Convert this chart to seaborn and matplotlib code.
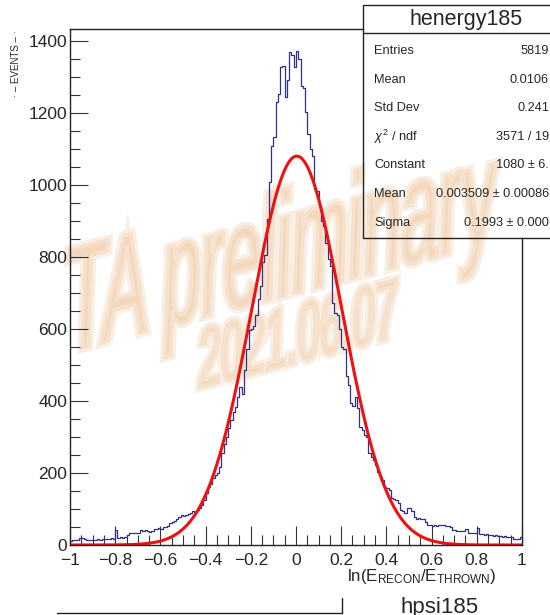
import numpy as np
import pandas as pd
import matplotlib
matplotlib.use("Agg")
import matplotlib.pyplot as plt
import seaborn as sns
from matplotlib.textpath import TextPath
from matplotlib.patches import PathPatch, Rectangle
from matplotlib.font_manager import FontProperties
from matplotlib.transforms import Affine2D
from matplotlib.lines import Line2D
from matplotlib.ticker import MultipleLocator

# histogram: 200 bins on [-1, 1], counts
x_lo, x_hi, n_bins = -1.0, 1.0, 200
counts = [
    12, 14, 13, 15, 20, 19, 16, 15, 14, 13,
    15, 14, 16, 15, 17, 16, 18, 17, 19, 18,
    42, 20, 21, 19, 22, 27, 32, 33, 34, 32,
    33, 41, 40, 42, 38, 37, 39, 45, 44, 46,
    45, 50, 49, 52, 62, 64, 66, 72, 78, 82,
    80, 84, 86, 90, 95, 92, 98, 104, 111, 125,
    145, 160, 170, 186, 195, 200, 217, 256, 280, 301,
    325, 348, 368, 384, 410, 440, 418, 487, 543, 598,
    600, 607, 640, 682, 720, 785, 805, 905, 1007, 1108,
    1133, 1230, 1253, 1328, 1330, 1244, 1290, 1369, 1360, 1328,
    1372, 1350, 1275, 1268, 1202, 1141, 1100, 1080, 988, 983,
    941, 900, 885, 840, 793, 776, 673, 645, 640, 600,
    551, 543, 468, 445, 395, 387, 411, 380, 328, 320,
    306, 300, 256, 245, 237, 223, 203, 190, 181, 162,
    158, 153, 131, 128, 126, 117, 97, 95, 89, 103,
    103, 95, 78, 73, 74, 72, 73, 64, 56, 55,
    54, 56, 53, 55, 56, 55, 53, 53, 50, 42,
    42, 40, 39, 38, 39, 45, 33, 34, 32, 33,
    47, 30, 31, 29, 30, 28, 29, 26, 27, 25,
    26, 23, 24, 22, 23, 21, 18, 17, 16, 22,
]

# gaussian fit parameters from the stats box
fit_const = 1080.0
fit_mean = 0.003509
fit_sigma = 0.1993

stat_names = ["Entries", "Mean", "Std Dev", r"$\chi^2$ / ndf", "Constant", "Mean", "Sigma"]
stat_values = ["5819", "0.0106", "0.241", "3571 / 19", "1080 \u00b1 6.",
               "0.003509 \u00b1 0.00086", "0.1993 \u00b1 0.000"]
hist_name = "henergy185"

W, H = 550, 615
def fx(px):
    return px / W
def fy(py):
    return 1 - py / H

sns.set_style("ticks")
plt.rcParams["font.family"] = ["Liberation Sans", "DejaVu Sans"]
plt.rcParams["mathtext.fontset"] = "custom"
plt.rcParams["mathtext.rm"] = "Liberation Sans"
plt.rcParams["mathtext.it"] = "Liberation Sans:italic"

fig = plt.figure(figsize=(W / 100, H / 100), dpi=100, facecolor="white")

# watermark behind everything (axes background is transparent)
fp = FontProperties(family="Liberation Sans")
def watermark(text, x0, y0, length, cap, slope_deg, lean_deg):
    path = TextPath((0, 0), text, size=1, prop=fp)
    ext = path.get_extents()
    tr = Affine2D().translate(-ext.x0, 0).scale(length / ext.width, cap / 0.72)
    tr = tr.skew_deg(lean_deg, slope_deg).translate(x0, H - y0)
    fig.add_artist(PathPatch(path, transform=tr, facecolor="#f9eee3", edgecolor="#f9eee3",
                             linewidth=7, zorder=-6))
    fig.add_artist(PathPatch(path, transform=tr, facecolor="#f4d8bd", edgecolor="#f6e1cc",
                             linewidth=2.5, zorder=-5))

watermark("TA preliminary", 66, 352, 428, 107, 14.5, 2)
watermark("2021.06.07", 200, 387, 194, 60, 14.5, 2)

ax = fig.add_axes([fx(70), fy(545), fx(522) - fx(70), fy(29) - fy(545)])
ax.patch.set_alpha(0)

edges = np.linspace(x_lo, x_hi, n_bins + 1)
df = pd.DataFrame({"x": 0.5 * (edges[:-1] + edges[1:]), "n": counts})
sns.histplot(data=df, x="x", weights="n", bins=n_bins, binrange=(x_lo, x_hi),
             element="step", fill=False, color="#2e3185", linewidth=0.9, ax=ax)

xs = np.linspace(x_lo, x_hi, 600)
ys = fit_const * np.exp(-0.5 * ((xs - fit_mean) / fit_sigma) ** 2)
sns.lineplot(x=xs, y=ys, color="#ee1111", linewidth=2.2, ax=ax)

ax.set_xlim(x_lo, x_hi)
ax.set_ylim(0, 1433)
ax.set_xlabel("")
ax.set_ylabel("")
ax.xaxis.set_minor_locator(MultipleLocator(0.05))
ax.yaxis.set_major_locator(MultipleLocator(200))
ax.yaxis.set_minor_locator(MultipleLocator(50))
xt = np.round(np.arange(-1, 1.01, 0.2), 2)
ax.set_xticks(xt)
ax.set_xticklabels([("\u2212" if v < 0 else "") + f"{abs(v):g}" for v in xt])
ax.tick_params(which="both", direction="in", color="#333333", width=0.8, labelsize=12.5)
ax.tick_params(axis="x", which="major", length=14, pad=6)
ax.tick_params(axis="x", which="minor", length=7)
ax.tick_params(axis="y", which="major", length=13, pad=2)
ax.tick_params(axis="y", which="minor", length=7)
for s in ax.spines.values():
    s.set_visible(True)
    s.set_linewidth(1.0)
    s.set_color("#222222")
# stats box sits on top of the frame corner
ax.spines["top"].set_bounds(x_lo, x_lo + (363 - 70) / 452 * 2)
ax.spines["right"].set_bounds(0, (545 - 238) / 0.36)

# x title, y title, pad name
fig.text(fx(497), fy(567), r"ln(E$_{\mathregular{RECON}}$/E$_{\mathregular{THROWN}}$)",
         ha="right", va="top", fontsize=12.2)
fig.text(fx(16), fy(30), "\u00b7 \u2013 EVENTS \u2013 \u00b7", rotation=90, ha="center", va="top",
         fontsize=7)
fig.text(fx(440), fy(597), "hpsi185", ha="center", va="top", fontsize=16)
fig.add_artist(Line2D([fx(57), fx(342)], [fy(613), fy(613)], color="#222222", lw=1))
fig.add_artist(Line2D([fx(342), fx(342)], [fy(598), fy(613)], color="#222222", lw=1))

# stats box
fig.add_artist(Rectangle((fx(363), fy(238)), fx(600) - fx(363), fy(5) - fy(238),
                         fill=False, edgecolor="#222222", lw=1, zorder=3))
fig.add_artist(Line2D([fx(363), fx(600)], [fy(33), fy(33)], color="#222222", lw=1, zorder=3))
fig.text(fx(466), fy(19), hist_name, ha="center", va="center", fontsize=15.5, zorder=4)
row_y = [51, 80, 108, 137, 165, 194, 223]
for name, val, ry in zip(stat_names, stat_values, row_y):
    fig.text(fx(374), fy(ry), name, ha="left", va="center", fontsize=9.2, zorder=4)
    fig.text(fx(549), fy(ry), val, ha="right", va="center", fontsize=9.2, zorder=4)

fig.savefig("out.png", dpi=100, facecolor="white")
